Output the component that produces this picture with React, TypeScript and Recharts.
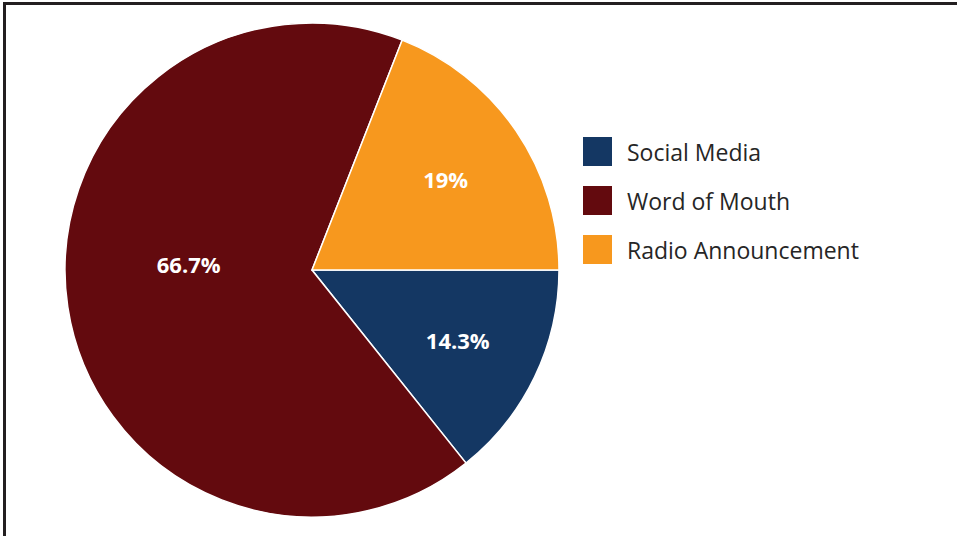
import { Cell, Legend, Pie, PieChart } from "recharts";

const sources = ["Social Media", "Word of Mouth", "Radio Announcement"];
const responses = [3, 14, 4];
const percentLabels = ["14.3%", "66.7%", "19%"];
const colors = ["#143763", "#630a0e", "#f7981e"];

const data = sources.map((name, i) => ({ name, value: responses[i] }));

const RADIAN = Math.PI / 180;

function SliceLabel(props: any) {
  const { cx, cy, midAngle, outerRadius, index } = props;
  // the big slice sits its label nearer the middle, like the original
  const factor = index === 1 ? 0.505 : 0.655;
  const r = outerRadius * factor;
  const x = cx + r * Math.cos(-midAngle * RADIAN);
  const y = index === 1 ? cy - 6 : cy + r * Math.sin(-midAngle * RADIAN);
  return (
    <text
      x={x}
      y={y}
      fill="#ffffff"
      textAnchor="middle"
      dominantBaseline="central"
      fontFamily="'Open Sans', sans-serif"
      fontWeight={700}
      fontSize={22}
    >
      {percentLabels[index]}
    </text>
  );
}

function LegendList() {
  return (
    <div style={{ fontFamily: "'Open Sans', sans-serif", fontSize: 23, color: "#262626" }}>
      {sources.map((name, i) => (
        <div
          key={name}
          style={{ display: "flex", alignItems: "center", height: 49 }}
        >
          <span
            style={{
              width: 29,
              height: 29,
              background: colors[i],
              display: "inline-block",
              marginRight: 15,
            }}
          />
          <span>{name}</span>
        </div>
      ))}
    </div>
  );
}

export default function App() {
  return (
    <div
      style={{
        position: "fixed",
        left: 0,
        top: 0,
        width: 957,
        height: 536,
        background: "#fff",
      }}
    >
      <div
        style={{
          position: "absolute",
          left: 3,
          top: 2,
          right: 0,
          bottom: 0,
          borderLeft: "3px solid #231f20",
          borderTop: "3px solid #231f20",
        }}
      />
      <PieChart
        width={957}
        height={536}
        margin={{ top: 0, right: 0, bottom: 0, left: 0 }}
        style={{ position: "absolute", left: 0, top: 0 }}
      >
        <Pie
          data={data}
          dataKey="value"
          nameKey="name"
          cx={312}
          cy={270}
          outerRadius={247}
          startAngle={0}
          endAngle={-360}
          stroke="#ffffff"
          strokeWidth={1.5}
          label={SliceLabel}
          labelLine={false}
          isAnimationActive={false}
        >
          {data.map((d, i) => (
            <Cell key={d.name} fill={colors[i]} />
          ))}
        </Pie>
        <Legend
          content={() => <LegendList />}
          wrapperStyle={{ position: "absolute", left: 583, top: 127, width: 340 }}
        />
      </PieChart>
    </div>
  );
}
